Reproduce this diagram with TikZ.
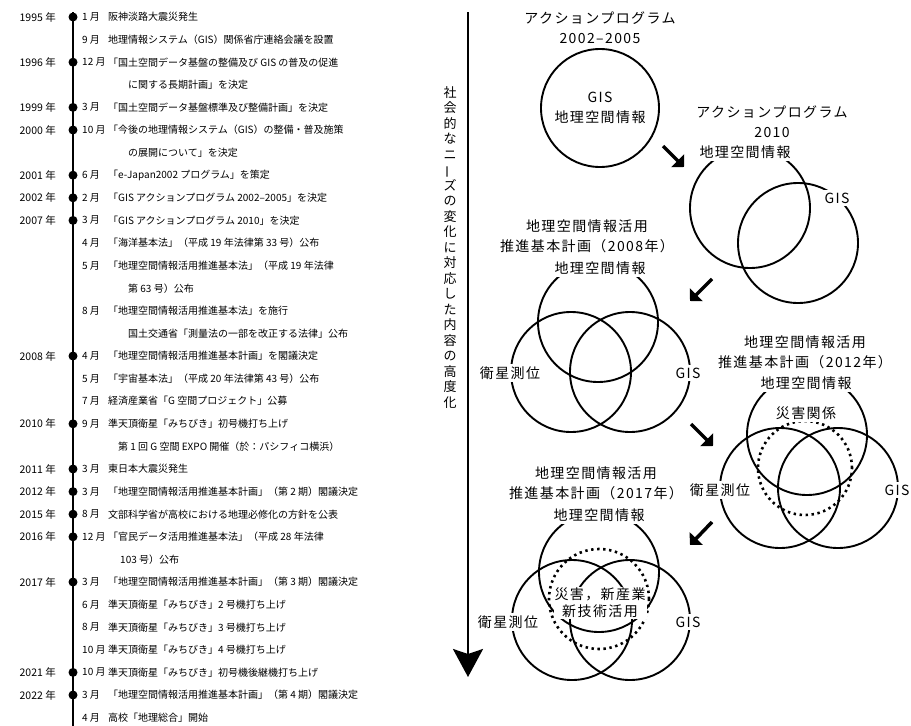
\documentclass[tikz,border=0pt]{standalone}
\usepackage{fontspec}
\setmainfont{Noto Sans CJK JP}
\newfontfamily\bigjp[LetterSpace=10]{Noto Sans CJK JP}
\usepackage{tikz}
\usetikzlibrary{arrows.meta}

\begin{document}
\begin{tikzpicture}[x=1pt, y=-1pt, font=\fontsize{10}{12}\selectfont,
  tdot/.style={circle, fill=black, inner sep=0pt, minimum size=9pt},
  yrlabel/.style={anchor=east, inner sep=0pt, font=\fontsize{10.5}{12}\selectfont},
  molabel/.style={anchor=west, inner sep=0pt},
  evlabel/.style={anchor=west, inner sep=0pt},
  ring/.style={line width=1.9pt},
  dotring/.style={line width=2.6pt, dash pattern=on 2.4pt off 3.6pt},
  tag/.style={fill=white, inner sep=3pt, font=\bigjp\fontsize{14}{17}\selectfont},
  title/.style={align=center, inner sep=0pt, font=\bigjp\fontsize{14}{20}\selectfont},
  stepar/.style={line width=3.5pt, -{Triangle[length=9pt,width=18pt]}},
]
  \useasboundingbox (0,0) rectangle (911,726);

  % Timeline
  \coordinate (tltop) at (73,12);
  \coordinate (tlbot) at (73,726);
  \draw[line width=2.2pt] (tltop) -- (tlbot);

  % Years (row n at y = 17 + 22.6 n)
  \foreach \n/\yr in {0/1995,2/1996,4/1999,5/2000,7/2001,8/2002,9/2007,15/2008,
                      18/2010,20/2011,21/2012,22/2015,23/2016,25/2017,29/2021,30/2022} {
    \pgfmathsetmacro\yy{17+22.6*\n}
    \node[tdot] (dot\n) at (73,\yy) {};
    \node[yrlabel] (yr\n) at (56,\yy) {\yr{} 年};
  }

  % Months and events
  \foreach \n/\mo/\ev in {
      0/1 月/阪神淡路大震災発生,
      1/9 月/地理情報システム（GIS）関係省庁連絡会議を設置,
      2/12 月/「国土空間データ基盤の整備及び GIS の普及の促進,
      4/3 月/「国土空間データ基盤標準及び整備計画」を決定,
      5/10 月/「今後の地理情報システム（GIS）の整備・普及施策,
      7/6 月/「e-Japan2002 プログラム」を策定,
      8/2 月/「GIS アクションプログラム 2002–2005」を決定,
      9/3 月/「GIS アクションプログラム 2010」を決定,
      10/4 月/「海洋基本法」（平成 19 年法律第 33 号）公布,
      11/5 月/「地理空間情報活用推進基本法」（平成 19 年法律,
      13/8 月/「地理空間情報活用推進基本法」を施行,
      15/4 月/「地理空間情報活用推進基本計画」を閣議決定,
      16/5 月/「宇宙基本法」（平成 20 年法律第 43 号）公布,
      17/7 月/経済産業省「G 空間プロジェクト」公募,
      18/9 月/準天頂衛星「みちびき」初号機打ち上げ,
      20/3 月/東日本大震災発生,
      21/3 月/「地理空間情報活用推進基本計画」（第 2 期）閣議決定,
      22/8 月/文部科学省が高校における地理必修化の方針を公表,
      23/12 月/「官民データ活用推進基本法」（平成 28 年法律,
      25/3 月/「地理空間情報活用推進基本計画」（第 3 期）閣議決定,
      26/6 月/準天頂衛星「みちびき」2 号機打ち上げ,
      27/8 月/準天頂衛星「みちびき」3 号機打ち上げ,
      28/10 月/準天頂衛星「みちびき」4 号機打ち上げ,
      29/10 月/準天頂衛星「みちびき」初号機後継機打ち上げ,
      30/3 月/「地理空間情報活用推進基本計画」（第 4 期）閣議決定,
      31/4 月/高校「地理総合」開始} {
    \pgfmathsetmacro\yy{17+22.6*\n}
    \node[molabel] (mo\n) at (82,\yy) {\mo};
    \node[evlabel] (ev\n) at (108,\yy) {\ev};
  }

  % Second lines
  \node[evlabel] (ev3)  at (128,{17+22.6*3})  {に関する長期計画」を決定};
  \node[evlabel] (ev6)  at (128,{17+22.6*6})  {の展開について」を決定};
  \node[evlabel] (ev12) at (128,{17+22.6*12}) {第 63 号）公布};
  \node[evlabel] (ev14) at (128,{17+22.6*14}) {国土交通省「測量法の一部を改正する法律」公布};
  \node[evlabel] (ev19) at (118,{17+22.6*19}) {第 1 回 G 空間 EXPO 開催（於：パシフィコ横浜）};
  \node[evlabel] (ev24) at (120,{17+22.6*24}) {103 号）公布};

  % Big arrow and vertical caption
  \coordinate (artop) at (468,12);
  \coordinate (arbot) at (468,677);
  \draw[line width=2.6pt, -{Stealth[length=28pt,width=30pt,inset=5pt]}] (artop) -- (arbot);
  \node[anchor=north, align=center, inner sep=0pt,
        font=\fontsize{13}{15.5}\selectfont] (needs) at (450,86)
    {社\\会\\的\\な\\ニ\\\rotatebox[origin=c]{90}{ー}\\ズ\\の\\変\\化\\に\\対\\応\\し\\た\\内\\容\\の\\高\\度\\化};

  % Plan 2002-2005
  \node[title] (t1) at (600,27.5) {アクションプログラム\\2002–2005};
  \coordinate (c1) at (600,108);
  \draw[ring] (c1) circle[radius=59pt];
  \node[title] (c1lab) at (c1) {GIS\\地理空間情報};

  % Plan 2010
  \node[title] (t2) at (772,122) {アクションプログラム\\2010};
  \coordinate (c2a) at (750,208);
  \coordinate (c2b) at (798,243);
  \draw[ring] (c2a) circle[radius=60pt];
  \draw[ring] (c2b) circle[radius=60pt];
  \node[tag] (c2alab) at (745,152) {地理空間情報};
  \node[tag] (c2blab) at (837,198) {GIS};

  % Plan 2008
  \node[title] (t3) at (587,236) {地理空間情報活用\\推進基本計画（2008年）};
  \coordinate (c3t) at (598,322);
  \coordinate (c3l) at (571,372);
  \coordinate (c3r) at (630,372);
  \foreach \c in {c3t,c3l,c3r} \draw[ring] (\c) circle[radius=60pt];
  \node[tag] (c3tlab) at (600,268) {地理空間情報};
  \node[tag] (c3llab) at (510,373) {衛星測位};
  \node[tag] (c3rlab) at (688,373) {GIS};

  % Plan 2012
  \node[title] (t4) at (805,352) {地理空間情報活用\\推進基本計画（2012年）};
  \coordinate (c4t) at (807,435);
  \coordinate (c4l) at (780,488);
  \coordinate (c4r) at (838,488);
  \coordinate (c4d) at (805,468);
  \foreach \c in {c4t,c4l,c4r} \draw[ring] (\c) circle[radius=60pt];
  \draw[dotring] (c4d) circle[radius=47pt];
  \node[tag] (c4tlab) at (806,383) {地理空間情報};
  \node[tag] (c4dlab) at (806,413) {災害関係};
  \node[tag] (c4llab) at (720,490) {衛星測位};
  \node[tag] (c4rlab) at (897,490) {GIS};

  % Plan 2017
  \node[title] (t5) at (596,483) {地理空間情報活用\\推進基本計画（2017年）};
  \coordinate (c5t) at (599,572);
  \coordinate (c5l) at (572,620);
  \coordinate (c5r) at (630,620);
  \coordinate (c5d) at (599,599);
  \foreach \c in {c5t,c5l,c5r} \draw[ring] (\c) circle[radius=60pt];
  \draw[dotring] (c5d) circle[radius=50pt];
  \node[tag] (c5tlab) at (599,515) {地理空間情報};
  \node[tag] (c5llab) at (508,622) {衛星測位};
  \node[tag] (c5rlab) at (688,622) {GIS};
  \node[tag, align=center, inner sep=1pt] (c5dlab) at (600,603) {災害，新産業\\新技術活用};

  % Step arrows
  \coordinate (s1a) at (663,146); \coordinate (s1b) at (684,167);
  \coordinate (s2a) at (712,279); \coordinate (s2b) at (690,301);
  \coordinate (s3a) at (691,424); \coordinate (s3b) at (713,446);
  \coordinate (s4a) at (712,522); \coordinate (s4b) at (690,545);
  \draw[stepar] (s1a) -- (s1b);
  \draw[stepar] (s2a) -- (s2b);
  \draw[stepar] (s3a) -- (s3b);
  \draw[stepar] (s4a) -- (s4b);

\end{tikzpicture}
\end{document}
